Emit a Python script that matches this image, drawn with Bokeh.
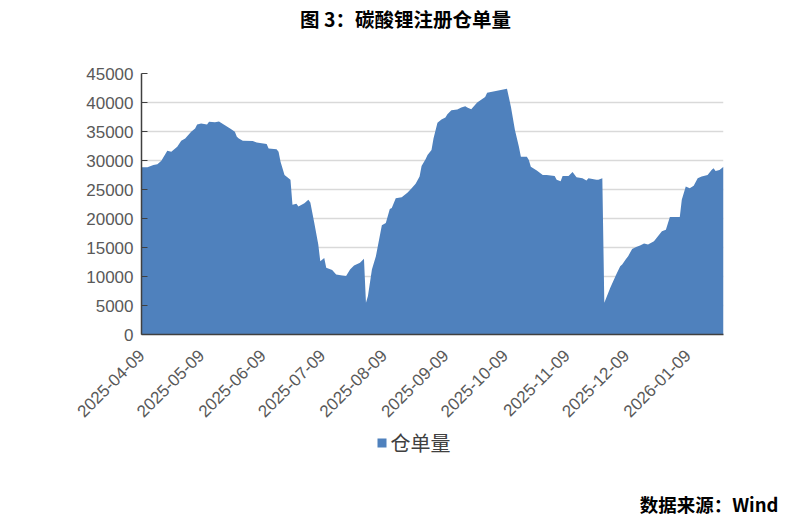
import pandas as pd
from math import pi
from bokeh.plotting import figure
from bokeh.layouts import column
from bokeh.models import (FixedTicker, DatetimeTickFormatter, Range1d,
                          ColumnDataSource, NumeralTickFormatter)
from bokeh.core.properties import value
from bokeh.embed import file_html
from bokeh.resources import INLINE

title_text = "图 3：碳酸锂注册仓单量"
source_text = "数据来源：Wind"
series_name = "仓单量"

dates = [
    "2025-04-09", "2025-04-12", "2025-04-15", "2025-04-17", "2025-04-19", "2025-04-22",
    "2025-04-24", "2025-04-27", "2025-04-29", "2025-05-01", "2025-05-04", "2025-05-06",
    "2025-05-07", "2025-05-09", "2025-05-12", "2025-05-13", "2025-05-16", "2025-05-18",
    "2025-05-21", "2025-05-24", "2025-05-26", "2025-05-27", "2025-05-28", "2025-05-30",
    "2025-06-04", "2025-06-06", "2025-06-11", "2025-06-12", "2025-06-16", "2025-06-17",
    "2025-06-18", "2025-06-20", "2025-06-23", "2025-06-24", "2025-06-26", "2025-06-27",
    "2025-06-30", "2025-07-02", "2025-07-03", "2025-07-05", "2025-07-07", "2025-07-08",
    "2025-07-10", "2025-07-11", "2025-07-14", "2025-07-16", "2025-07-19", "2025-07-21",
    "2025-07-23", "2025-07-25", "2025-07-28", "2025-07-30", "2025-07-31", "2025-08-01",
    "2025-08-03", "2025-08-05", "2025-08-08", "2025-08-10", "2025-08-12", "2025-08-13",
    "2025-08-15", "2025-08-18", "2025-08-21", "2025-08-23", "2025-08-25", "2025-08-27",
    "2025-08-28", "2025-08-30", "2025-08-31", "2025-09-02", "2025-09-03", "2025-09-05",
    "2025-09-07", "2025-09-09", "2025-09-10", "2025-09-12", "2025-09-15", "2025-09-17",
    "2025-09-19", "2025-09-20", "2025-09-22", "2025-09-25", "2025-09-29", "2025-09-30",
    "2025-10-10", "2025-10-12", "2025-10-14", "2025-10-16", "2025-10-17", "2025-10-20",
    "2025-10-21", "2025-10-22", "2025-10-25", "2025-10-28", "2025-10-30", "2025-11-03",
    "2025-11-04", "2025-11-06", "2025-11-07", "2025-11-10", "2025-11-12", "2025-11-14",
    "2025-11-17", "2025-11-19", "2025-11-20", "2025-11-24", "2025-11-25", "2025-11-27",
    "2025-11-28", "2025-12-01", "2025-12-04", "2025-12-06", "2025-12-07", "2025-12-09",
    "2025-12-10", "2025-12-12", "2025-12-14", "2025-12-16", "2025-12-18", "2025-12-20",
    "2025-12-23", "2025-12-25", "2025-12-27", "2025-12-29", "2025-12-31", "2026-01-05",
    "2026-01-06", "2026-01-08", "2026-01-10", "2026-01-12", "2026-01-14", "2026-01-16",
    "2026-01-19", "2026-01-21", "2026-01-22", "2026-01-23", "2026-01-25", "2026-01-27",
]

volumes = [
    28830, 28830, 29230, 29340, 29970, 31690,
    31520, 32380, 33400, 33800, 34950, 35520,
    36210, 36380, 36210, 36670, 36610, 36720,
    36090, 35410, 34950, 34090, 33800, 33400,
    33350, 33120, 32830, 32090, 31920, 31520,
    29800, 27510, 26660, 22370, 22540, 22080,
    22650, 23220, 22770, 19220, 15500, 12640,
    13210, 11500, 11100, 10350, 10180, 10070,
    11210, 11900, 12360, 13040, 5490, 6640,
    11210, 13500, 18820, 19220, 21620, 21790,
    23510, 23680, 24480, 25230, 25970, 27230,
    29060, 30200, 30950, 31800, 33810, 36490,
    37070, 37410, 37980, 38670, 38780, 39120,
    39350, 39120, 38840, 39980, 40960, 41700,
    42390, 39240, 35240, 32380, 30660, 30660,
    30090, 28940, 28260, 27510, 27510, 27340,
    26660, 26430, 27340, 27340, 28030, 27110,
    26940, 26540, 26940, 26660, 26660, 26940,
    5490, 8070, 10350, 11780, 12070, 13040,
    13500, 14760, 15100, 15330, 15670, 15500,
    16070, 16930, 17790, 18080, 20250, 20250,
    23220, 25510, 25230, 25630, 26940, 27230,
    27510, 28370, 28660, 28200, 28370, 28940,
]

y_ticks = [0, 5000, 10000, 15000, 20000, 25000, 30000, 35000, 40000, 45000]
x_tick_labels = ["2025-04-09", "2025-05-09", "2025-06-09", "2025-07-09", "2025-08-09",
                 "2025-09-09", "2025-10-09", "2025-11-09", "2025-12-09", "2026-01-09"]

AREA_COLOR = "#4F81BD"
W = 785
TOP_H, MAIN_H, FOOT_H = 36, 389, 93


def no_frame_align(f):
    if "frame_align" in f.properties():
        f.frame_align = False


def text_strip(height):
    """A bare figure whose data units equal pixels, used for header/footer texts."""
    f = figure(width=W, height=height, output_backend="svg", toolbar_location=None,
               x_axis_type=None, y_axis_type=None,
               x_range=Range1d(0, W), y_range=Range1d(0, height),
               min_border_left=0, min_border_right=0, min_border_top=0, min_border_bottom=0)
    f.outline_line_color = None
    f.background_fill_color = "white"
    f.border_fill_color = "white"
    no_frame_align(f)
    return f


# ---- header with the title
top = text_strip(TOP_H)
top.text(x=[405], y=[TOP_H - 18], text=[title_text], text_align="center",
         text_baseline="middle", text_font=value("Noto Sans CJK SC"),
         text_font_size="19.5px", text_font_style="bold", text_color="black")

# ---- main chart
dt = pd.to_datetime(dates)
src = ColumnDataSource(dict(x=dt, y=volumes))

p = figure(width=W, height=MAIN_H, output_backend="svg", toolbar_location=None, title=None,
           x_axis_type="datetime",
           x_range=Range1d(dt[0], dt[-1]), y_range=Range1d(y_ticks[0], y_ticks[-1]),
           min_border_left=141, min_border_right=62, min_border_top=73 - TOP_H,
           min_border_bottom=TOP_H + MAIN_H - 335)
p.background_fill_color = "white"
p.border_fill_color = "white"
p.outline_line_color = None
no_frame_align(p)

area = p.varea(x="x", y1=0, y2="y", source=src, fill_color=AREA_COLOR)

tick_ms = [int(pd.Timestamp(s).value // 10**6) for s in x_tick_labels]
p.xaxis.ticker = FixedTicker(ticks=tick_ms)
fmt = "%Y-%m-%d"
p.xaxis.formatter = DatetimeTickFormatter(milliseconds=fmt, seconds=fmt, minsec=fmt, minutes=fmt,
                                          hourmin=fmt, hours=fmt, days=fmt, months=fmt, years=fmt)
p.xaxis.major_label_orientation = pi / 4
p.xaxis.major_tick_in = 0
p.xaxis.major_tick_out = 0
p.xaxis.minor_tick_line_color = None
p.xaxis.axis_line_color = "#404040"
p.xaxis.axis_line_width = 1.5
p.xaxis.major_label_standoff = 18

p.yaxis.ticker = FixedTicker(ticks=y_ticks)
p.yaxis.formatter = NumeralTickFormatter(format="0")
p.yaxis.major_tick_in = 6
p.yaxis.major_tick_out = 0
p.yaxis.major_tick_line_color = "#404040"
p.yaxis.minor_tick_line_color = None
p.yaxis.axis_line_color = "#404040"
p.yaxis.axis_line_width = 1.5
p.yaxis.major_label_standoff = 8

for ax in (p.xaxis, p.yaxis):
    ax.major_label_text_font = "Liberation Sans"
    ax.major_label_text_font_size = "17px"
    ax.major_label_text_color = "#595959"

p.xgrid.visible = False
p.ygrid.grid_line_color = "#d9d9d9"
p.ygrid.grid_line_width = 1.5

# ---- footer with the legend key and the source note (page y -> data y: total_h - y)
total_h = TOP_H + MAIN_H + FOOT_H
foot = text_strip(FOOT_H)
foot.quad(left=[377], right=[386], top=[total_h - 438], bottom=[total_h - 447],
          fill_color=AREA_COLOR, line_color=None)
foot.text(x=[390], y=[total_h - 442], text=[series_name], text_align="left",
          text_baseline="middle", text_font=value("Noto Sans CJK SC"),
          text_font_size="20px", text_color="#404040")
foot.text(x=[778], y=[total_h - 503], text=[source_text], text_align="right",
          text_baseline="middle", text_font=value("Noto Sans CJK SC"),
          text_font_size="18.5px", text_font_style="bold", text_color="black")

layout = column(top, p, foot, spacing=0)
open("out.html", "w").write(file_html(layout, INLINE))
